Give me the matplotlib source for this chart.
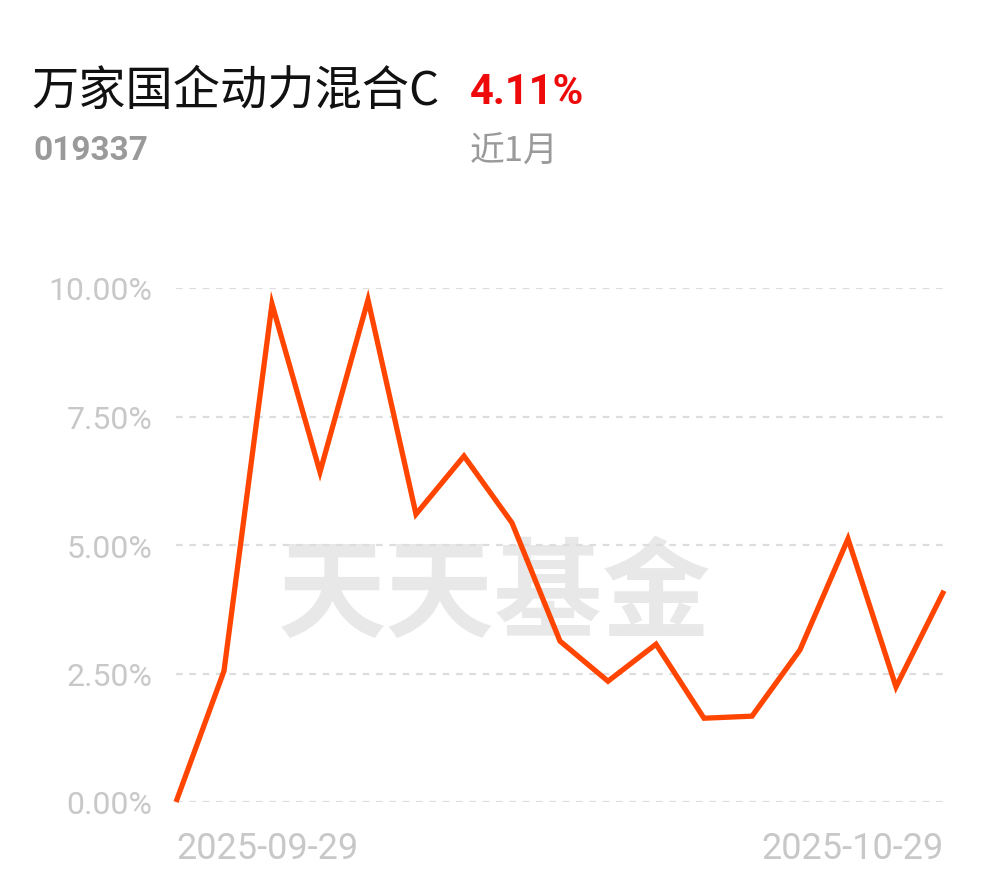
import matplotlib
matplotlib.use("Agg")
import matplotlib.pyplot as plt

# fund return over the last month (%)
dates = ["2025-09-29", "2025-09-30", "2025-10-09", "2025-10-10", "2025-10-13",
         "2025-10-14", "2025-10-15", "2025-10-16", "2025-10-17", "2025-10-20",
         "2025-10-21", "2025-10-22", "2025-10-23", "2025-10-24", "2025-10-27",
         "2025-10-28", "2025-10-29"]
returns = [0.00, 2.55, 9.69, 6.42, 9.77, 5.60, 6.73, 5.43, 3.13, 2.35,
           3.07, 1.63, 1.67, 2.96, 5.12, 2.24, 4.11]
yticks = [0, 2.5, 5, 7.5, 10]
ytick_labels = ["0.00%", "2.50%", "5.00%", "7.50%", "10.00%"]

W, H = 990, 878
fig = plt.figure(figsize=(W / 100, H / 100), dpi=100)
fig.patch.set_facecolor("white")

cjk = ["Noto Sans CJK SC", "DejaVu Sans"]
num = ["Roboto", "DejaVu Sans"]

# header texts
fig.text(31 / W, 1 - 105 / H, "万家国企动力混合C", family=cjk, fontsize=34, color="#111111")
fig.text(470 / W, 1 - 104 / H, "4.11%", family=num, fontsize=30, weight="bold", color="#ee0a0a")
fig.text(33 / W, 1 - 160 / H, "019337", family=num, fontsize=24, weight="bold", color="#9a9a9a")
fig.text(470 / W, 1 - 162 / H, "近1月", family=cjk, fontsize=25, color="#9a9a9a")

ax = fig.add_axes([176 / W, 1 - 803 / H, (944 - 176) / W, (803 - 289) / H])
x = list(range(len(dates)))

# watermark
ax.text(0.415, 0.40, "天天基金", transform=ax.transAxes, family=cjk, fontsize=78,
        weight="bold", color="#e8e8e8", ha="center", va="center", zorder=0)

for yv in yticks:
    ax.axhline(yv, color="#dddddd", lw=1.6, ls=(0, (3, 3)), zorder=1)

ax.plot(x, returns, color="#ff4500", lw=3.8, solid_joinstyle="miter",
        solid_capstyle="butt", zorder=3, clip_on=False)

ax.set_xlim(0, len(dates) - 1)
ax.set_ylim(0, 10)
ax.set_yticks(yticks)
ax.set_yticklabels(ytick_labels, family=num, fontsize=23, color="#c8c8c8")
ax.set_xticks([0, len(dates) - 1])
ax.set_xticklabels([dates[0], dates[-1]], family=num, fontsize=26, color="#c8c8c8")
labs = ax.get_xticklabels()
labs[0].set_ha("left")
labs[1].set_ha("right")
ax.tick_params(axis="both", length=0)
ax.tick_params(axis="y", pad=17)
ax.tick_params(axis="x", pad=20)
for s in ax.spines.values():
    s.set_visible(False)
ax.set_facecolor("none")

fig.savefig("out.png", dpi=100, facecolor="white")
